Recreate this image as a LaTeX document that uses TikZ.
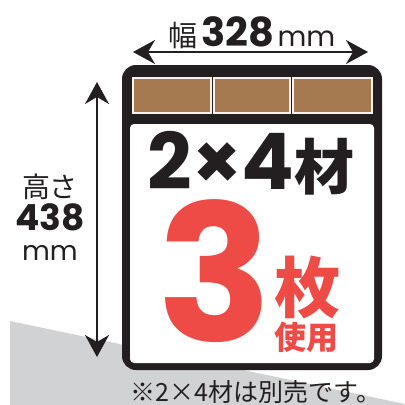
\documentclass[tikz,border=0pt]{standalone}
\usepackage{fontspec}
\usetikzlibrary{arrows.meta}
\setmainfont{Poppins}
\newfontfamily\jp{Noto Sans CJK JP}
\newfontfamily\pop{Poppins}
\definecolor{waku}{RGB}{35,31,32}
\definecolor{ita}{RGB}{166,122,80}
\definecolor{yuka}{RGB}{209,210,212}
\definecolor{aka}{RGB}{238,75,70}

\begin{document}
\begin{tikzpicture}[
    x=1pt, y=-1pt,
    text = waku,
    every node/.style={inner sep=0pt, outer sep=0pt},
    sunpou/.style={line width=2.2pt, draw=waku,
      {Stealth[length=22pt,width=24pt,inset=7pt]}-{Stealth[length=22pt,width=24pt,inset=7pt]}},
    plank/.style={fill=ita, draw=white!90!ita, line width=1.2pt},
    bignum/.style={font=\pop\bfseries\fontsize{190}{190}\selectfont, text=aka,
      text height=132pt, text depth=0pt, anchor=base}
    ]
    \useasboundingbox (0,0) rectangle (405,405);

    % floor
    \fill[yuka] (10,321) -- (405,404) -- (405,405) -- (10,405) -- cycle;

    % frame
    \fill[waku, rounded corners=14pt] (122,65) rectangle (382,370);
    \fill[white, rounded corners=4pt] (130,124) rectangle (374,363);
    \draw[plank] (133,78) rectangle (211,113);
    \draw[plank] (214,78) rectangle (290,113);
    \draw[plank] (293,78) rectangle (372,113);

    % dimensions
    \coordinate (wl) at (133,52);
    \coordinate (wr) at (368,52);
    \coordinate (ht) at (97,82);
    \coordinate (hb) at (97,357);
    \draw[sunpou] (wl) -- (wr);
    \draw[sunpou] (ht) -- (hb);

    \node (haba) at (252,33)
      {{\jp\fontsize{29}{29}\selectfont 幅}\hspace{4pt}{\pop\bfseries\fontsize{40}{40}\selectfont 328}\hspace{3pt}{\pop\fontsize{28}{28}\selectfont mm}};
    \node[anchor=base] (takasa) at (50,197) {\jp\fontsize{28}{28}\selectfont 高さ};
    \node[anchor=base, text depth=0pt] (h438) at (50,230) {\pop\bfseries\fontsize{36}{36}\selectfont 438};
    \node[anchor=base, text height=14pt, text depth=0pt] (hmm) at (50,260) {\pop\fontsize{27}{27}\selectfont mm};

    % contents
    \node (zai) at (251,163)
      {{\pop\bfseries\fontsize{78}{78}\selectfont 2×4}{\jp\bfseries\fontsize{60}{60}\selectfont 材}};
    \node[bignum] (san) at (215,341) {3};
    \node[text=aka] (mai) at (307,287) {\jp\bfseries\fontsize{66}{66}\selectfont 枚};
    \node[text=aka] (shiyou) at (306,337) {\jp\bfseries\fontsize{32}{32}\selectfont 使用};

    \node (chui) at (256,392) {\jp\fontsize{25}{25}\selectfont ※2×4材は別売です。};
\end{tikzpicture}
\end{document}
